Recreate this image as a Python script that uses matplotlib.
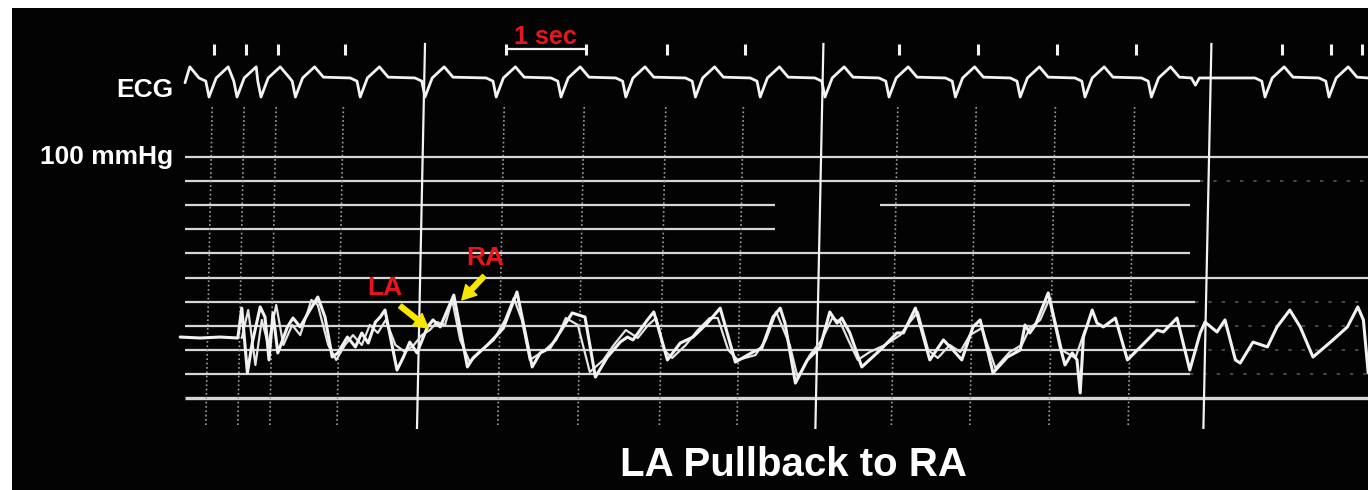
import numpy as np
import matplotlib.pyplot as plt

# time axis: seconds from the start of the pressure trace
# pressure axis: mmHg (grid every 10 mmHg, 0..100)

# ECG: beat times (s) and one complex (offset from beat in s, mV)
ecg_beats = [0.30, 0.65, 0.95, 1.38, 2.19, 3.00, 3.89, 4.70, 5.51, 6.38,
             7.19, 8.00, 8.80, 9.63, 10.44, 11.25, 12.08, 13.50, 14.30]
beat_offsets = [-0.125, -0.04, 0.0, 0.09, 0.24, 0.35]
beat_mv = [0.0, -0.2, -1.2, 0.0, 0.7, 0.05]
notch_t = [12.58, 12.63, 12.68]
notch_mv = [0.0, -0.45, 0.0]

# pacing / event marks above the ECG and the timer lines
stim_marks = [0.36, 0.76, 1.16, 2.00, 4.01, 5.01, 6.03, 7.00, 8.93, 9.91,
              10.90, 11.89, 13.71, 14.33, 14.71]
timer_lines = [3.00, 7.98, 12.83]

# main pressure trace
pressure_t = [-0.06, 0.19, 0.44, 0.66, 0.71, 0.78, 0.84, 0.94, 1.00, 1.05,
              1.10, 1.16, 1.28, 1.35, 1.44, 1.54, 1.66, 1.75, 1.84, 1.91,
              2.03, 2.13, 2.21, 2.29, 2.38, 2.44, 2.50, 2.65, 2.73, 2.81,
              2.90, 3.03, 3.10, 3.19, 3.36, 3.53, 3.60, 3.78, 3.90, 3.98,
              4.15, 4.34, 4.44, 4.56, 4.69, 4.84, 5.00, 5.13, 5.28, 5.44,
              5.53, 5.60, 5.78, 5.86, 6.03, 6.19, 6.35, 6.53, 6.69, 6.88,
              7.10, 7.21, 7.35, 7.44, 7.50, 7.63, 7.78, 7.94, 8.06, 8.15,
              8.21, 8.31, 8.46, 8.69, 8.90, 8.98, 9.13, 9.31, 9.48, 9.60,
              9.71, 9.85, 9.94, 10.10, 10.28, 10.44, 10.50, 10.56, 10.63, 10.79,
              10.94, 11.00, 11.09, 11.15, 11.19, 11.23, 11.34, 11.40, 11.48, 11.63,
              11.78, 12.03, 12.15, 12.23, 12.40, 12.56, 12.69, 12.75, 12.90, 13.00,
              13.13, 13.19, 13.35, 13.53, 13.65, 13.81, 13.94, 14.10, 14.35, 14.53,
              14.66, 14.73, 14.79]
pressure_mmHg = [25.3, 24.9, 25.3, 24.9, 37.3, 10.4, 22.8, 37.8, 33.6, 15.8,
                 35.3, 18.7, 29.5, 33.2, 29.5, 35.3, 41.9, 33.6, 17.0, 18.7,
                 25.3, 21.2, 27.0, 22.8, 31.5, 33.6, 36.5, 11.6, 17.0, 23.2,
                 18.7, 29.5, 32.4, 29.5, 42.7, 12.9, 16.6, 22.0, 26.1, 29.0,
                 44.0, 12.9, 18.7, 20.7, 27.4, 35.3, 33.6, 8.7, 17.0, 23.2,
                 25.3, 24.1, 32.4, 35.7, 15.8, 22.8, 25.3, 31.1, 37.3, 14.9,
                 19.1, 20.7, 33.6, 37.3, 31.1, 6.2, 15.8, 21.2, 35.7, 31.1,
                 33.2, 27.0, 12.9, 19.9, 27.0, 27.0, 37.3, 15.8, 24.1, 19.9,
                 15.8, 29.5, 32.4, 10.4, 17.0, 19.9, 30.3, 27.0, 30.3, 43.6,
                 21.2, 13.7, 18.7, 15.8, 2.1, 25.3, 36.5, 31.1, 29.5, 33.2,
                 15.8, 24.1, 28.2, 27.4, 33.2, 11.6, 27.0, 31.5, 27.4, 32.4,
                 15.8, 14.5, 23.2, 21.2, 29.5, 36.5, 29.5, 17.0, 24.1, 29.5,
                 37.8, 32.4, 10.4]

# second, superimposed pressure sweep
overlay_t = [0.71, 0.79, 0.88, 0.96, 1.04, 1.14, 1.23, 1.34, 1.44, 1.58,
             1.66, 1.79, 1.89, 2.00, 2.10, 2.21, 2.31, 2.41, 2.51, 2.63,
             2.75, 2.86, 2.96, 3.06, 3.15, 3.25, 3.34, 3.44, 3.56, 3.71,
             3.86, 4.00, 4.11, 4.21, 4.31, 4.50, 4.64, 4.76, 4.91, 5.06,
             5.23, 5.36, 5.51, 5.66, 5.79, 5.89, 5.99, 6.09, 6.26, 6.41,
             6.56, 6.66, 6.79, 6.91, 7.13, 7.26, 7.39, 7.56, 7.66, 7.81,
             7.96, 8.09, 8.19, 8.29, 8.41, 8.56, 8.75, 8.94, 9.06, 9.16,
             9.29, 9.41, 9.56, 9.69, 9.81, 9.96, 10.13, 10.31, 10.46, 10.56,
             10.69, 10.81, 10.96, 11.13, 11.25]
overlay_mmHg = [24.9, 36.5, 13.7, 32.4, 22.0, 38.6, 22.0, 30.3, 26.1, 40.7,
                38.6, 22.0, 15.8, 22.0, 26.1, 22.0, 30.3, 27.0, 32.4, 22.0,
                19.1, 22.0, 26.1, 28.2, 31.5, 30.3, 40.7, 24.1, 14.9, 19.9,
                24.1, 32.4, 41.5, 32.4, 15.8, 19.9, 24.1, 33.2, 30.3, 10.8,
                15.8, 22.0, 28.2, 24.9, 30.3, 33.2, 19.9, 16.6, 22.0, 28.2,
                33.2, 33.2, 19.9, 15.8, 17.8, 24.1, 35.7, 22.0, 8.3, 17.8,
                24.1, 33.2, 31.5, 24.1, 15.8, 19.1, 22.0, 26.1, 31.5, 35.7,
                19.9, 16.6, 22.0, 19.1, 26.1, 29.0, 12.4, 19.1, 22.0, 29.0,
                32.4, 41.5, 19.9, 16.6, 28.2]

# scale lines (mmHg), the stretches drawn solid, and whether a faint dashed tail follows
grid_levels = [100, 90, 80, 70, 60, 50, 40, 30, 20, 10, 0]
grid_spans = [[(0, 14.79)], [(0, 12.69)], [(0, 7.38), (8.69, 12.56)],
              [(0, 7.38)], [(0, 12.56)], [(0, 14.79)], [(0, 12.63)],
              [(0, 12.63)], [(0, 12.63)], [(0, 12.56)], [(0, 14.79)]]
grid_tail = [False, True, False, False, False, False, True, True, True, True, False]

ECG_BASE = 132.8   # where the ECG baseline sits on the pressure scale
ECG_GAIN = 6.6     # pressure-scale units per mV
FG = '#f2f2f2'

# build the ECG line from the beat list
ecg_t, ecg_v = [0.0, 0.06], [-0.3, 0.7]
for i, b in enumerate(ecg_beats):
    nxt = ecg_beats[i + 1] if i + 1 < len(ecg_beats) else np.inf
    for off, v in zip(beat_offsets, beat_mv):
        t = b + off
        if t > ecg_t[-1] and t < nxt - 0.04:
            ecg_t.append(t)
            ecg_v.append(v)
ecg_t += notch_t + [14.79]
ecg_v += notch_mv + [0.0]
order = np.argsort(ecg_t)
ecg_t = np.array(ecg_t)[order]
ecg_v = np.array(ecg_v)[order]

fig = plt.figure(figsize=(13.68, 4.90), dpi=100, facecolor='white')
ax = fig.add_axes([12 / 1368, 0, 1 - 12 / 1368, 482 / 490])
ax.set_facecolor('#030303')
ax.set_xlim(-2.1625, 14.7875)
ax.set_ylim(-38.17, 161.83)
ax.axis('off')
ax.add_patch(plt.Rectangle((0, 0), 1, 1, transform=ax.transAxes, color='#030303', zorder=0))

# scale lines
for lev, spans, tail in zip(grid_levels, grid_spans, grid_tail):
    lw = 2.4 if lev == 0 else 1.6
    for a, b in spans:
        ax.plot([a, b], [lev, lev], color='#d6d6d6', lw=lw, solid_capstyle='butt', zorder=2)
    if tail:
        ax.plot([spans[-1][1], 14.79], [lev, lev], color='#8a8a8a', lw=1.2,
                ls=(0, (2, 6)), alpha=0.6, zorder=2)

# dotted marker lines through the pressure area
for m in stim_marks:
    if m < 12.5:
        ax.plot([m - 0.02, m - 0.1], [120.7, -11.2], color='#a0a0a0', lw=1.2,
                ls=(0, (1, 1.6)), zorder=2)

# timer lines
for m in timer_lines:
    ax.plot([m, m - 0.1], [146.9, -12.4], color=FG, lw=1.6, zorder=3)

# event marks and 1 sec bar
ax.vlines(stim_marks, 142.3, 146.9, color=FG, lw=2.2, zorder=3)
ax.hlines(144.8, stim_marks[4], stim_marks[5], color=FG, lw=1.6, zorder=3)

# ECG
ax.plot(ecg_t, ECG_BASE + ECG_GAIN * ecg_v, color=FG, lw=2.0,
        solid_joinstyle='round', solid_capstyle='round', zorder=4)

# pressure sweeps
ax.plot(overlay_t, overlay_mmHg, color='#e4e4e4', lw=1.6,
        solid_joinstyle='round', solid_capstyle='round', zorder=4)
ax.plot(pressure_t, pressure_mmHg, color=FG, lw=2.2,
        solid_joinstyle='round', solid_capstyle='round', zorder=5)

# arrows
arrow = dict(facecolor='#f7e600', edgecolor='#f7e600', width=3.5, headwidth=11, headlength=10)
ax.annotate('', xy=(3.04, 29.0), xytext=(2.69, 38.2), arrowprops=arrow, zorder=6)
ax.annotate('', xy=(3.46, 40.7), xytext=(3.74, 50.6), arrowprops=arrow, zorder=6)

font = ['Liberation Sans', 'DejaVu Sans']
fig.text(173 / 1368, 1 - 90 / 490, 'ECG', color='white', fontsize=19, fontweight='bold',
         family=font, ha='right', va='center')
fig.text(173 / 1368, 1 - 157 / 490, '100 mmHg', color='white', fontsize=19,
         fontweight='bold', family=font, ha='right', va='center')
fig.text(545 / 1368, 1 - 37 / 490, '1 sec', color='#e8161c', fontsize=18,
         fontweight='bold', family=font, ha='center', va='center')
fig.text(385 / 1368, 1 - 288 / 490, 'LA', color='#e8161c', fontsize=19,
         fontweight='bold', family=font, ha='center', va='center')
fig.text(485 / 1368, 1 - 258 / 490, 'RA', color='#e8161c', fontsize=19,
         fontweight='bold', family=font, ha='center', va='center')
fig.text(793 / 1368, 1 - 465 / 490, 'LA Pullback to RA', color='white', fontsize=29,
         fontweight='bold', family=font, ha='center', va='center')

fig.savefig('out.png', dpi=100, facecolor='white')
